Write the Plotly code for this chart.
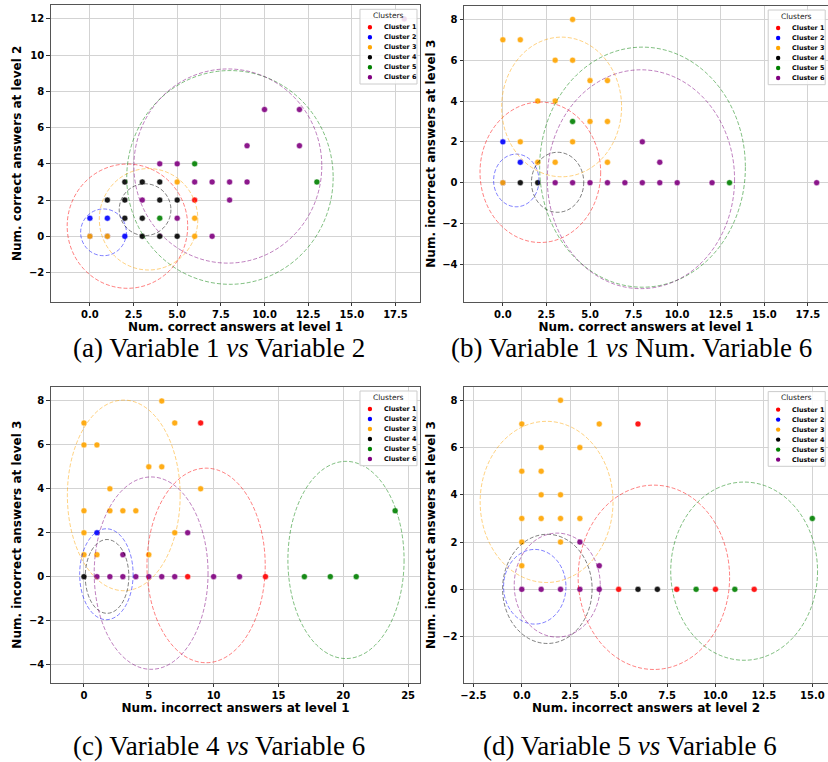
import plotly.graph_objects as go

W, H = 828, 762

# ---------------- data ----------------
cluster_names = ["Cluster 1", "Cluster 2", "Cluster 3", "Cluster 4", "Cluster 5", "Cluster 6"]
cluster_colors = ["red", "blue", "orange", "black", "green", "purple"]
ellipse_colors = ["rgba(255,0,0,0.5)", "rgba(0,0,255,0.5)", "rgba(255,165,0,0.5)",
                  "rgba(0,0,0,0.5)", "rgba(0,128,0,0.5)", "rgba(128,0,128,0.5)"]

# (a) Variable 1 vs Variable 2  -- one list per cluster
pa_x = [[6], [0, 1, 2, 0, 1], [0, 1, 5, 6, 6],
        [2, 3, 4, 1, 2, 4, 5, 2, 3, 3, 4, 5], [6, 4, 13],
        [4, 5, 6, 7, 8, 9, 3, 8, 5, 7, 9, 10, 12, 12, 18]]
pa_y = [[2], [1, 1, 0, 0, 0], [0, 0, 3, 1, 0],
        [3, 3, 3, 2, 2, 2, 2, 1, 1, 0, 0, 0], [4, 1, 3],
        [4, 4, 3, 3, 3, 3, 2, 2, 1, 0, 5, 7, 7, 5, 12]]
# ellipse per cluster: centre x, centre y, half-width, half-height
pa_ell = [[2.15, 0.56, 3.45, 3.43], [0.78, 0.22, 1.31, 1.29], [3.36, 0.94, 2.82, 2.80],
          [3.16, 1.47, 1.48, 1.43], [8.02, 3.25, 5.91, 5.90], [7.90, 3.88, 5.38, 5.36]]

# (b) Variable 1 vs Num. Variable 6
pb_x = [[], [0, 1, 0],
        [0, 1, 4, 3, 4, 5, 6, 2, 3, 5, 6, 1, 4, 2, 3, 6, 0],
        [1, 2], [4, 13],
        [3, 4, 5, 6, 7, 8, 9, 10, 12, 18, 8, 9]]
pb_y = [[], [2, 1, 0],
        [7, 7, 8, 6, 6, 5, 5, 4, 4, 3, 3, 2, 2, 1, 1, 1, 0],
        [0, 0], [3, 0],
        [0, 0, 0, 0, 0, 0, 0, 0, 0, 0, 2, 1]]
pb_ell = [[2.15, 0.51, 3.46, 3.44], [0.77, 0.11, 1.30, 1.29], [3.37, 3.71, 3.44, 3.42],
          [3.14, 0.02, 1.50, 1.47], [8.01, 0.76, 5.90, 5.88], [7.92, 0.17, 5.37, 5.36]]

# (c) Variable 4 vs Variable 6
pc_x = [[9, 8, 14], [1],
        [0, 0, 1, 6, 7, 5, 6, 2, 9, 0, 2, 3, 4, 0, 7, 0, 1, 5],
        [0], [17, 19, 21, 24],
        [3, 8, 1, 2, 3, 4, 5, 6, 7, 10, 12]]
pc_y = [[7, 0, 0], [2],
        [7, 6, 6, 8, 7, 5, 5, 4, 4, 3, 3, 3, 3, 2, 2, 1, 1, 1],
        [0], [0, 0, 0, 3],
        [1, 2, 0, 0, 0, 0, 0, 0, 0, 0, 0]]
pc_ell = [[9.42, 0.51, 4.56, 4.43], [1.73, 0.11, 2.06, 2.07], [3.07, 3.70, 4.35, 4.34],
          [1.78, 0.01, 1.68, 1.68], [20.21, 0.76, 4.48, 4.49], [5.18, 0.16, 4.39, 4.38]]

# (d) Variable 5 vs Variable 6
pd_x = [[6, 5, 8, 10, 12], [],
        [2, 0, 4, 1, 3, 0, 1, 1, 2, 0, 1, 2, 3, 0, 2, 0],
        [6, 7], [15, 9, 11],
        [3, 4, 0, 1, 2, 3, 4]]
pd_y = [[7, 0, 0, 0, 0], [],
        [8, 7, 7, 6, 6, 5, 5, 4, 4, 3, 3, 3, 3, 2, 2, 1],
        [0, 0], [3, 0, 0],
        [2, 1, 0, 0, 0, 0, 0]]
pd_ell = [[6.82, 0.51, 3.91, 3.90], [0.67, 0.11, 1.61, 1.58], [1.28, 3.70, 3.43, 3.41],
          [1.32, 0.02, 2.31, 2.31], [11.48, 0.77, 3.79, 3.77], [1.83, 0.18, 2.22, 2.20]]

ticks_025 = [0.0, 2.5, 5.0, 7.5, 10.0, 12.5, 15.0, 17.5]
ticks_d_x = [-2.5, 0.0, 2.5, 5.0, 7.5, 10.0, 12.5, 15.0]
ticks_c_x = [0, 5, 10, 15, 20, 25]
ticks_a_y = [-2, 0, 2, 4, 6, 8, 10, 12]
ticks_b_y = [-4, -2, 0, 2, 4, 6, 8]
ticks_d_y = [-2, 0, 2, 4, 6, 8]

captions = ["(a) Variable 1 <i>vs</i> Variable 2",
            "(b) Variable 1 <i>vs</i> Num. Variable 6",
            "(c) Variable 4 <i>vs</i> Variable 6",
            "(d) Variable 5 <i>vs</i> Variable 6"]

# ---------------- layout (pixels) ----------------
panels = [
    dict(X=pa_x, Y=pa_y, E=pa_ell, xpx=(47, 418.3), ypx=(5, 301.7), R=418.3,
         xr=[-2.24, 18.92], yr=[-3.61, 12.77], xt=ticks_025, xf=".1f", yt=ticks_a_y,
         xtitle="Num. correct answers at level 1", ytitle="Num. correct answers at level 2",
         cap=(216, 348)),
    dict(X=pb_x, Y=pb_y, E=pb_ell, xpx=(462.3, 828), ypx=(5.7, 301.7), R=828.5,
         xr=[-2.225, 18.65], yr=[-5.83, 8.67], xt=ticks_025, xf=".1f", yt=ticks_b_y,
         xtitle="Num. correct answers at level 1", ytitle="Num. incorrect answers at level 3",
         cap=(631, 348)),
    dict(X=pc_x, Y=pc_y, E=pc_ell, xpx=(47, 418.3), ypx=(386.7, 682.7), R=418.3,
         xr=[-2.56, 25.94], yr=[-4.83, 8.65], xt=ticks_c_x, xf="d", yt=ticks_b_y,
         xtitle="Num. incorrect answers at level 1", ytitle="Num. incorrect answers at level 3",
         cap=(216, 746)),
    dict(X=pd_x, Y=pd_y, E=pd_ell, xpx=(462.3, 828), ypx=(387.3, 682.7), R=828.5,
         xr=[-2.98, 15.81], yr=[-3.95, 8.55], xt=ticks_d_x, xf=".1f", yt=ticks_d_y,
         xtitle="Num. incorrect answers at level 2", ytitle="Num. incorrect answers at level 3",
         cap=(629, 746)),
]

def px(x):
    return x / W

def py(y):
    return 1 - y / H

FONT = "DejaVu Sans"
fig = go.Figure()
shapes = []
annotations = []
layout = {}

for i, p in enumerate(panels):
    n = "" if i == 0 else str(i + 1)
    xa, ya = "x" + n, "y" + n
    for k in range(6):
        fig.add_trace(go.Scatter(
            x=p["X"][k], y=p["Y"][k], mode="markers", name=cluster_names[k],
            xaxis=xa, yaxis=ya, showlegend=False,
            marker=dict(size=6, color=cluster_colors[k], opacity=0.9,
                        line=dict(width=0.5, color="white"))))
    for k in range(6):
        cx, cy, rx, ry = p["E"][k]
        shapes.append(dict(type="circle", xref=xa, yref=ya, x0=cx - rx, x1=cx + rx,
                           y0=cy - ry, y1=cy + ry, layer="above",
                           line=dict(color=ellipse_colors[k], width=1, dash="4px,2px")))
    axis_common = dict(showgrid=True, gridcolor="#d3d3d3", gridwidth=1, zeroline=False,
                       showline=True, linecolor="#555", linewidth=1,
                       ticks="outside", ticklen=3.5, tickwidth=0.8, tickcolor="#333",
                       tickfont=dict(family=FONT, size=10, color="black", weight="bold"))
    layout["xaxis" + n] = dict(axis_common, domain=[px(p["xpx"][0]), px(p["xpx"][1])],
                               range=p["xr"], anchor=ya, tickvals=p["xt"], tickformat=p["xf"],
                               mirror=True,
                               title=dict(text=p["xtitle"], standoff=2,
                                          font=dict(family=FONT, size=12, color="black", weight="bold")))
    layout["yaxis" + n] = dict(axis_common, domain=[py(p["ypx"][1]), py(p["ypx"][0])],
                               range=p["yr"], anchor=xa, tickvals=p["yt"],
                               mirror=(i % 2 == 0),
                               title=dict(text=p["ytitle"], standoff=4,
                                          font=dict(family=FONT, size=12, color="black", weight="bold")))
    # legend drawn inside the axes, top-right
    R, T = p["R"], p["ypx"][0]
    shapes.append(dict(type="rect", xref="paper", yref="paper", layer="above",
                       x0=px(R - 60.6), x1=px(R - 3.3), y0=py(T + 79), y1=py(T + 4.3),
                       fillcolor="rgba(255,255,255,0.85)", line=dict(color="#cccccc", width=1)))
    annotations.append(dict(text="Clusters", xref="paper", yref="paper", showarrow=False,
                            x=px(R - 32), y=py(T + 10.5), xanchor="center", yanchor="middle",
                            font=dict(family=FONT, size=7.5, color="#222")))
    for k in range(6):
        yy = T + 22.3 + 10 * k
        shapes.append(dict(type="circle", xref="paper", yref="paper", layer="above",
                           xsizemode="pixel", ysizemode="pixel",
                           xanchor=px(R - 50.6), yanchor=py(yy),
                           x0=-2.2, x1=2.2, y0=-2.2, y1=2.2,
                           fillcolor=cluster_colors[k], line=dict(width=0)))
        annotations.append(dict(text=cluster_names[k], xref="paper", yref="paper", showarrow=False,
                                x=px(R - 38.3), y=py(yy), xanchor="left", yanchor="middle",
                                font=dict(family=FONT, size=6.4, color="black", weight="bold")))
    annotations.append(dict(text=captions[i], xref="paper", yref="paper", showarrow=False,
                            x=px(p["cap"][0]), y=py(p["cap"][1]), xanchor="center", yanchor="middle",
                            font=dict(family="Liberation Serif", size=27, color="black")))

fig.update_layout(width=W, height=H, autosize=False, margin=dict(l=0, r=0, t=0, b=0),
                  paper_bgcolor="white", plot_bgcolor="white", hovermode=False,
                  shapes=shapes, annotations=annotations, **layout)
fig.write_html("out.html", config={"displayModeBar": False},
               post_script="document.body.style.margin='0';"
                           "document.body.style.overflow='hidden';"
                           "document.documentElement.style.overflow='hidden';")
